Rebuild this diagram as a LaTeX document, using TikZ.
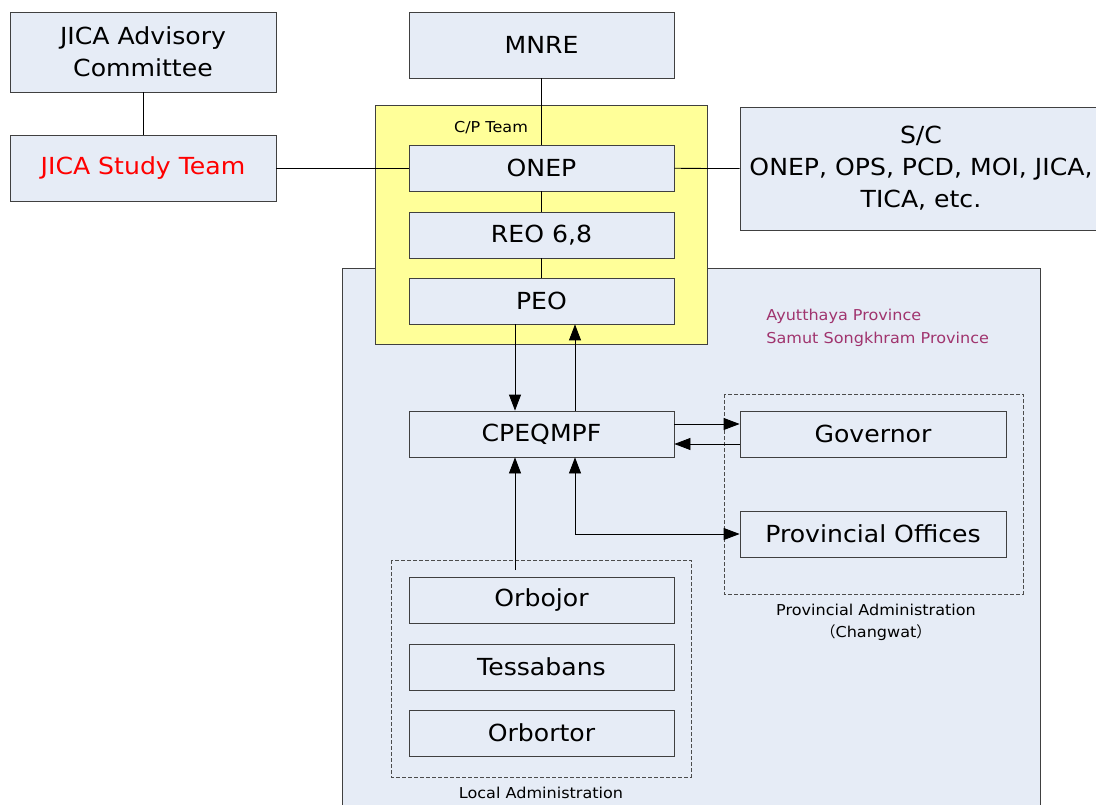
\documentclass[tikz,border=0pt]{standalone}
\usepackage{fontspec}
\setmainfont{DejaVu Sans}[FakeStretch=1.07]
\newfontfamily\cjk{Noto Sans CJK JP}
\usetikzlibrary{arrows.meta}
\definecolor{boxfill}{HTML}{E6ECF6}
\definecolor{cpyellow}{HTML}{FFFF99}
\definecolor{provtext}{HTML}{A0346E}

\begin{document}
\begin{tikzpicture}[x=1pt, y=-1pt, line width=0.8pt,
	orgbox/.style={draw=black!75, fill=boxfill, minimum width=265pt, minimum height=46pt, inner sep=0pt, font=\fontsize{23.5}{32}\selectfont, align=center},
	arr/.style={-{Triangle[length=16pt,width=12pt]}},
	groupbox/.style={draw=black!70, dash pattern=on 4pt off 2pt},
	small/.style={font=\fontsize{15}{22}\selectfont, inner sep=0pt}]
		\useasboundingbox (0,0) rectangle (1096,805);
		\clip (0,0) rectangle (1096,805);
		
		% provinces panel and C/P team
		\draw[draw=black!75, fill=boxfill] (342,268) rectangle (1040,815);
		\draw[draw=black!75, fill=cpyellow] (375,105) rectangle (707,344);
		\node[small] (cpteam) at (491,128) {C/P Team};
		
		% JICA side
		\node[orgbox, minimum width=266pt, minimum height=80pt] (adv) at (143,52) {JICA Advisory\\Committee};
		\node[orgbox, minimum width=266pt, minimum height=66pt, text=red] (jst) at (143,168) {JICA Study Team};
		
		% central line
		\node[orgbox, minimum height=66pt] (mnre) at (541.5,45) {MNRE};
		\node[orgbox] (onep) at (541.5,168) {ONEP};
		\node[orgbox] (reo) at (541.5,235) {REO 6,8};
		\node[orgbox] (peo) at (541.5,301) {PEO};
		\node[orgbox, minimum width=362pt, minimum height=123pt] (sc) at (921,168.5) {S/C\\ONEP, OPS, PCD, MOI, JICA,\\TICA, etc.};
		
		\draw (adv) -- (jst);
		\draw (jst) -- (onep);
		\draw (onep) -- (sc.west);
		\draw (mnre) -- (onep);
		\draw (onep) -- (reo);
		\draw (reo) -- (peo);
		
		\node[small, text=provtext, anchor=west] (ayu) at (766,316) {Ayutthaya Province};
		\node[small, text=provtext, anchor=west] (sam) at (766,339) {Samut Songkhram Province};
		
		% province level
		\node[orgbox] (cpeq) at (541.5,434) {CPEQMPF};
		\draw[groupbox] (724,394) rectangle (1023,594);
		\node[orgbox, minimum width=266pt] (gov) at (873,434) {Governor};
		\node[orgbox, minimum width=266pt] (prov) at (873,534) {Provincial Offices};
		\node[small, align=center] (provadm) at (876,622) {Provincial Administration\\{\cjk （}Changwat{\cjk ）}};
		
		% local level
		\draw[groupbox] (391,560) rectangle (691,777);
		\node[orgbox] (orb) at (541.5,600) {Orbojor};
		\node[orgbox] (tes) at (541.5,667) {Tessabans};
		\node[orgbox] (ort) at (541.5,733) {Orbortor};
		\node[small] (locadm) at (541,793) {Local Administration};
		\coordinate (loctop) at (515,570);
		
		\draw[arr] ([xshift=-26.5pt]peo.south) -- ([xshift=-26.5pt]cpeq.north);
		\draw[arr] ([xshift=33.5pt]cpeq.north) -- ([xshift=33.5pt]peo.south);
		\draw[arr] ([yshift=10pt]cpeq.east) -- ([yshift=10pt]gov.west);
		\draw[arr] ([yshift=-10pt]gov.west) -- ([yshift=-10pt]cpeq.east);
		\draw[arr] (loctop) -- ([xshift=-26.5pt]cpeq.south);
		\draw[{Triangle[length=16pt,width=12pt]}-{Triangle[length=16pt,width=12pt]}] ([xshift=33.5pt]cpeq.south) |- (prov.west);
\end{tikzpicture}
\end{document}
